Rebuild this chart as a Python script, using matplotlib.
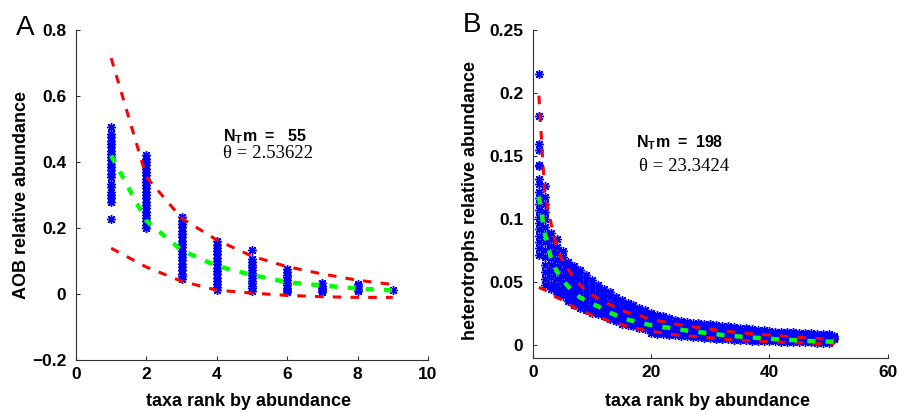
import matplotlib
matplotlib.use("Agg")
import matplotlib.pyplot as plt

plt.rcParams["font.family"] = ["Liberation Sans", "DejaVu Sans"]
plt.rcParams["mathtext.fontset"] = "custom"
plt.rcParams["mathtext.bf"] = "Liberation Sans:bold"
plt.rcParams["mathtext.rm"] = "Liberation Sans"

# ---- panel A: AOB ----
a_ranks = [1, 2, 3, 4, 5, 6, 7, 8, 9]
a_samples = [
    [0.505, 0.485, 0.475, 0.465, 0.455, 0.445, 0.435, 0.425, 0.415, 0.405, 0.395,
     0.385, 0.375, 0.365, 0.355, 0.335, 0.325, 0.31, 0.30, 0.29, 0.28, 0.227],
    [0.42, 0.41, 0.40, 0.39, 0.38, 0.37, 0.36, 0.35, 0.34, 0.33, 0.32, 0.31, 0.30,
     0.29, 0.28, 0.27, 0.26, 0.25, 0.24, 0.23, 0.22, 0.21, 0.20],
    [0.233, 0.222, 0.212, 0.202, 0.192, 0.182, 0.172, 0.162, 0.152, 0.142, 0.132,
     0.122, 0.112, 0.102, 0.092, 0.082, 0.072, 0.062, 0.054, 0.046],
    [0.160, 0.150, 0.140, 0.130, 0.120, 0.110, 0.100, 0.090, 0.080, 0.070, 0.060,
     0.050, 0.040, 0.030, 0.020, 0.012],
    [0.135, 0.105, 0.097, 0.089, 0.081, 0.073, 0.065, 0.057, 0.049, 0.041, 0.033,
     0.025, 0.017, 0.009],
    [0.075, 0.067, 0.059, 0.051, 0.043, 0.035, 0.027, 0.019, 0.011, 0.005],
    [0.033, 0.026, 0.019, 0.012, 0.007],
    [0.030, 0.023, 0.016, 0.010],
    [0.012],
]
a_mean = [0.42, 0.222, 0.133, 0.085, 0.058, 0.036, 0.026, 0.017, 0.011]
a_upper = [0.715, 0.355, 0.23, 0.164, 0.115, 0.083, 0.061, 0.042, 0.029]
a_lower = [0.139, 0.082, 0.039, 0.012, 0.003, -0.004, -0.008, -0.010, -0.010]

# ---- panel B: heterotrophs ----
b_ranks = list(range(1, 52))
b_samples = [
    [0.215, 0.182, 0.160, 0.155, 0.143, 0.142, 0.132, 0.128, 0.122, 0.117, 0.112,
     0.107, 0.102, 0.097, 0.092, 0.087, 0.082, 0.077, 0.072],
    [0.126, 0.118, 0.112, 0.106, 0.100, 0.094, 0.088, 0.082, 0.076, 0.070, 0.064,
     0.058, 0.053, 0.048],
    [0.089, 0.084, 0.079, 0.074, 0.069, 0.064, 0.059, 0.054, 0.049, 0.045],
    [0.084, 0.078, 0.073, 0.068, 0.063, 0.058, 0.053, 0.048, 0.044, 0.041],
    [0.075, 0.070, 0.065, 0.060, 0.055, 0.050, 0.046, 0.042, 0.039],
    [0.066, 0.062, 0.058, 0.054, 0.050, 0.046, 0.042, 0.038, 0.035],
    [0.063, 0.059, 0.055, 0.051, 0.047, 0.043, 0.039, 0.035, 0.032],
    [0.060, 0.056, 0.052, 0.048, 0.044, 0.040, 0.036, 0.033, 0.030],
    [0.056, 0.052, 0.048, 0.044, 0.040, 0.036, 0.032, 0.028],
    [0.052, 0.048, 0.044, 0.040, 0.036, 0.032, 0.029, 0.026],
    [0.048, 0.044, 0.040, 0.036, 0.032, 0.028, 0.025],
    [0.045, 0.041, 0.037, 0.033, 0.029, 0.026, 0.023],
    [0.042, 0.038, 0.034, 0.030, 0.027, 0.024, 0.021],
    [0.038, 0.035, 0.031, 0.028, 0.025, 0.022, 0.019],
    [0.036, 0.033, 0.029, 0.026, 0.023, 0.020, 0.017],
    [0.034, 0.031, 0.027, 0.024, 0.021, 0.018, 0.016],
    [0.032, 0.029, 0.026, 0.023, 0.020, 0.017, 0.015],
    [0.030, 0.027, 0.024, 0.021, 0.018, 0.016, 0.014],
    [0.028, 0.025, 0.022, 0.019, 0.016, 0.013],
    [0.026, 0.023, 0.020, 0.017, 0.014, 0.012, 0.0095],
    [0.024, 0.020, 0.016, 0.012, 0.009],
    [0.023, 0.019, 0.015, 0.011, 0.0088],
    [0.022, 0.018, 0.014, 0.011, 0.0085],
    [0.020, 0.017, 0.013, 0.010, 0.0080],
    [0.019, 0.016, 0.013, 0.010, 0.0075],
    [0.0185, 0.015, 0.012, 0.0095, 0.0071],
    [0.018, 0.0145, 0.0115, 0.009, 0.0067],
    [0.0175, 0.014, 0.011, 0.0085, 0.0063],
    [0.017, 0.0135, 0.0105, 0.008, 0.0059],
    [0.0166, 0.013, 0.010, 0.0075, 0.0055],
    [0.016, 0.0125, 0.0095, 0.007, 0.0053],
    [0.0155, 0.012, 0.009, 0.0068, 0.005],
    [0.015, 0.0115, 0.0088, 0.0065, 0.0047],
    [0.0145, 0.011, 0.0085, 0.0062, 0.0045],
    [0.014, 0.0108, 0.0082, 0.006, 0.0042],
    [0.0135, 0.0105, 0.008, 0.0058, 0.0040],
    [0.013, 0.010, 0.0078, 0.0056, 0.0038],
    [0.0125, 0.0098, 0.0075, 0.0054, 0.0037],
    [0.012, 0.0095, 0.0072, 0.0052, 0.0035],
    [0.0113, 0.0092, 0.007, 0.005, 0.0034],
    [0.011, 0.009, 0.0068, 0.0048, 0.0032],
    [0.0108, 0.0088, 0.0066, 0.0046, 0.0031],
    [0.0106, 0.0086, 0.0064, 0.0044, 0.0029],
    [0.0103, 0.0084, 0.0062, 0.0043, 0.0028],
    [0.010, 0.0082, 0.006, 0.0042, 0.0026],
    [0.0098, 0.008, 0.0058, 0.004, 0.0025],
    [0.0095, 0.0078, 0.0056, 0.0038, 0.0024],
    [0.0093, 0.0076, 0.0055, 0.0037, 0.0022],
    [0.009, 0.0074, 0.0054, 0.0036, 0.0021],
    [0.0087, 0.0072, 0.0052, 0.0034, 0.002],
    [0.0074, 0.006, 0.0048],
]
b_mean = [0.118, 0.089, 0.070, 0.059, 0.052, 0.0465, 0.042, 0.038, 0.0355, 0.033,
          0.031, 0.0287, 0.026, 0.024, 0.0218, 0.0205, 0.0193, 0.018, 0.017, 0.016,
          0.0155, 0.0147, 0.014, 0.013, 0.0125, 0.0118, 0.0112, 0.0106, 0.010, 0.0094,
          0.0089, 0.0083, 0.0078, 0.0074, 0.007, 0.0067, 0.0063, 0.006, 0.0056, 0.0053,
          0.005, 0.0047, 0.0044, 0.0042, 0.004, 0.0037, 0.0034, 0.0032, 0.0031, 0.003,
          0.0029]
b_upper = [0.198, 0.12, 0.098, 0.078, 0.067, 0.06, 0.053, 0.048, 0.043, 0.04,
           0.037, 0.035, 0.0324, 0.030, 0.028, 0.026, 0.025, 0.024, 0.022, 0.021,
           0.0197, 0.019, 0.0178, 0.017, 0.0162, 0.0155, 0.0148, 0.0142, 0.0135, 0.013,
           0.0123, 0.0117, 0.0112, 0.0106, 0.010, 0.0097, 0.0093, 0.0089, 0.0085, 0.0082,
           0.0078, 0.0075, 0.0071, 0.0067, 0.0064, 0.0061, 0.0058, 0.0055, 0.0052, 0.0049,
           0.0046]
b_lower = [0.046, 0.044, 0.041, 0.038, 0.036, 0.033, 0.030, 0.028, 0.026, 0.024,
           0.022, 0.021, 0.019, 0.018, 0.0165, 0.015, 0.014, 0.013, 0.012, 0.0112,
           0.0105, 0.0098, 0.0091, 0.0085, 0.008, 0.0076, 0.0072, 0.0068, 0.0064, 0.006,
           0.0056, 0.0051, 0.0047, 0.0043, 0.004, 0.0038, 0.0036, 0.0034, 0.0032, 0.003,
           0.0028, 0.0026, 0.0024, 0.0022, 0.0021, 0.0019, 0.0017, 0.0016, 0.0015, 0.0013,
           0.0012]

a_yticks = [-0.2, 0, 0.2, 0.4, 0.6, 0.8]
a_yticklabels = ["\u22120.2", "0", "0.2", "0.4", "0.6", "0.8"]
a_xticks = [0, 2, 4, 6, 8, 10]
b_yticks = [0, 0.05, 0.1, 0.15, 0.2, 0.25]
b_yticklabels = ["0", "0.05", "0.1", "0.15", "0.2", "0.25"]
b_xticks = [0, 20, 40, 60]

ASTER = (8, 2, 0)


def style_axes(ax):
    for side in ("top", "right"):
        ax.spines[side].set_visible(False)
    for side in ("left", "bottom"):
        ax.spines[side].set_color("0.2")
        ax.spines[side].set_linewidth(0.8)
    ax.tick_params(direction="in", length=3, width=0.8, color="0.2", labelsize=12.5)
    ax.tick_params(axis="x", pad=5)
    ax.tick_params(axis="y", pad=7)
    for lab in ax.get_xticklabels() + ax.get_yticklabels():
        lab.set_fontweight("bold")


def draw_panel(ax, ranks, samples, mean, upper, lower):
    for r, vals in zip(ranks, samples):
        ax.plot([r] * len(vals), vals, linestyle="none", marker=ASTER,
                markersize=6.5, markeredgewidth=1.0, color=(0, 0, 1), zorder=2)
    ax.plot(ranks, upper, color=(1, 0, 0), lw=2.2, dashes=(2.8, 3.0), zorder=3)
    ax.plot(ranks, lower, color=(1, 0, 0), lw=2.2, dashes=(2.8, 3.0), zorder=3)
    ax.plot(ranks, mean, color=(0, 1, 0), lw=3.2, dashes=(1.8, 2.3), zorder=4)


def set_labels(ax, xlabel, ylabel, xpos, ypos):
    ax.set_xlabel(xlabel, fontsize=13, fontweight="bold", va="center")
    ax.set_ylabel(ylabel, fontsize=13, fontweight="bold", va="center")
    ax.xaxis.set_label_coords(*xpos)
    ax.yaxis.set_label_coords(*ypos)


fig = plt.figure(figsize=(8.98, 4.12), dpi=100)
ax1 = fig.add_axes([0.0846, 0.126, 0.392, 0.801])
ax2 = fig.add_axes([0.5935, 0.131, 0.395, 0.796])

draw_panel(ax1, a_ranks, a_samples, a_mean, a_upper, a_lower)
ax1.set_xlim(0, 10)
ax1.set_ylim(-0.2, 0.8)
ax1.set_xticks(a_xticks)
ax1.set_xticklabels([str(t) for t in a_xticks])
ax1.set_yticks(a_yticks)
ax1.set_yticklabels(a_yticklabels)
style_axes(ax1)
set_labels(ax1, "taxa rank by abundance", "AOB relative abundance",
           (0.49, -0.127), (-0.156, 0.5))
ax1.text(4.18, 0.476, r"$\mathbf{N_Tm\ =\ \ 55}$", fontsize=11.5, ha="left", va="center")
ax1.text(4.18, 0.427, "\u03b8 = 2.53622", fontsize=13.5, ha="left", va="center",
         family=["Liberation Serif", "DejaVu Serif"])

draw_panel(ax2, b_ranks, b_samples, b_mean, b_upper, b_lower)
ax2.set_xlim(0, 60)
ax2.set_ylim(-0.01, 0.25)
ax2.set_xticks(b_xticks)
ax2.set_xticklabels([str(t) for t in b_xticks])
ax2.set_yticks(b_yticks)
ax2.set_yticklabels(b_yticklabels)
style_axes(ax2)
set_labels(ax2, "taxa rank by abundance", "heterotrophs relative abundance",
           (0.493, -0.134), (-0.177, 0.48))
ax2.text(17.5, 0.161, r"$\mathbf{N_Tm\ =\ 198}$", fontsize=11.5, ha="left", va="center")
ax2.text(17.9, 0.142, "\u03b8 = 23.3424", fontsize=13.5, ha="left", va="center",
         family=["Liberation Serif", "DejaVu Serif"])

fig.text(0.018, 0.932, "A", fontsize=20, ha="left", va="center")
fig.text(0.515, 0.94, "B", fontsize=20, ha="left", va="center")

fig.savefig("out.png", dpi=100)
plt.close(fig)
